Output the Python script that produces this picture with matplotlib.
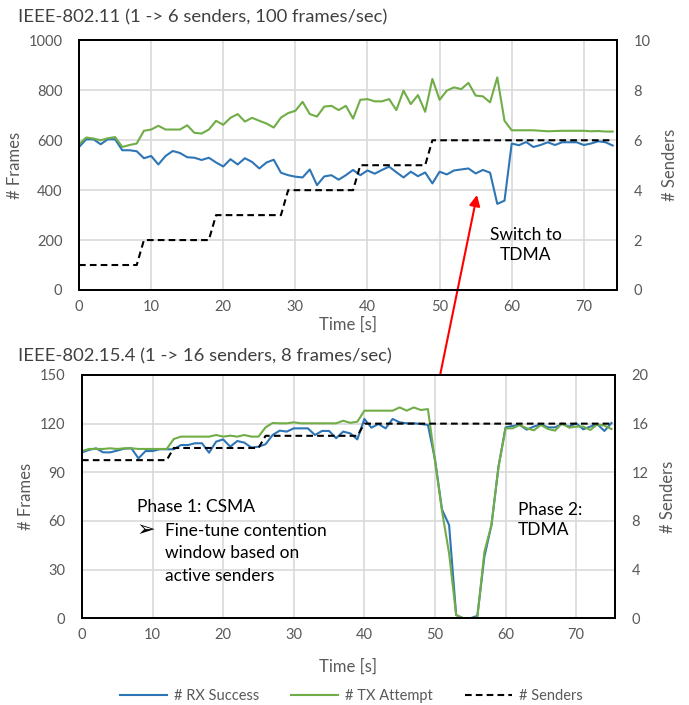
import matplotlib
matplotlib.use("Agg")
import matplotlib.pyplot as plt
import numpy as np

plt.rcParams['font.family'] = ['Lato', 'DejaVu Sans']

# ---- IEEE-802.11 (top) ----
t_wifi = np.arange(75)
wifi_rx = [573, 604, 604, 584, 604, 604, 560, 560, 556, 528, 537, 503, 537, 557, 549,
           532, 530, 521, 530, 511, 495, 524, 503, 528, 513, 487, 511, 522, 470, 460,
           454, 451, 483, 420, 455, 460, 442, 460, 481, 460, 479, 466, 481, 494, 472,
           451, 474, 456, 471, 427, 474, 463, 479, 483, 487, 467, 481, 470, 345, 358,
           587, 580, 593, 573, 581, 592, 581, 592, 592, 592, 581, 587, 596, 592, 579]
wifi_tx = [584, 611, 607, 600, 608, 613, 573, 581, 587, 638, 643, 658, 643, 643, 643,
           660, 630, 627, 643, 678, 662, 690, 705, 675, 690, 678, 667, 651, 691, 709,
           718, 754, 705, 695, 735, 738, 721, 738, 687, 762, 765, 756, 756, 765, 721,
           799, 745, 781, 714, 846, 762, 799, 812, 805, 830, 779, 776, 752, 852, 678,
           640, 640, 640, 640, 638, 636, 637, 638, 638, 638, 638, 636, 637, 635, 635]
wifi_senders = [1, 1, 1, 1, 1, 1, 1, 1, 1, 2, 2, 2, 2, 2, 2,
                2, 2, 2, 2, 3, 3, 3, 3, 3, 3, 3, 3, 3, 3, 4,
                4, 4, 4, 4, 4, 4, 4, 4, 4, 5, 5, 5, 5, 5, 5,
                5, 5, 5, 5, 6, 6, 6, 6, 6, 6, 6, 6, 6, 6, 6,
                6, 6, 6, 6, 6, 6, 6, 6, 6, 6, 6, 6, 6, 6, 6]

# ---- IEEE-802.15.4 (bottom) ----
t_zig = np.arange(76)
zig_rx = [102.3, 103.8, 104.8, 102.3, 102.3, 103.4, 104.6, 104.8, 98.6, 103.1, 103.1, 104.2,
          104.2, 104.2, 106.8, 106.8, 107.9, 107.9, 102.1, 108.9, 110.3, 105.8, 109.3, 108.3,
          105.2, 105.8, 107.3, 113.0, 115.7, 115.1, 117.1, 117.1, 117.1, 113.0, 115.5, 115.5,
          111.0, 115.1, 114.0, 110.3, 122.9, 117.5, 119.8, 117.1, 122.9, 120.8, 120.2, 120.2,
          119.8, 119.2, 98.0, 67.0, 57.5, 2.0, 0.0, 0.0, 1.5, 38.0, 57.5, 93.5,
          117.7, 118.6, 119.2, 116.3, 118.2, 119.6, 117.7, 117.7, 119.8, 118.2, 120.2, 116.5,
          118.2, 119.6, 115.5, 120.4]
zig_tx = [103.1, 104.4, 104.4, 104.4, 104.8, 104.4, 104.8, 104.8, 104.4, 104.4, 104.4, 104.4,
          104.4, 110.5, 112.0, 112.0, 112.0, 112.0, 112.0, 113.0, 112.0, 112.6, 112.0, 113.0,
          112.0, 112.0, 117.7, 120.4, 120.2, 120.2, 120.8, 120.2, 120.2, 120.2, 120.2, 120.2,
          120.2, 121.8, 120.5, 121.2, 128.0, 128.0, 128.0, 128.0, 128.0, 130.0, 128.0, 130.0,
          128.4, 129.0, 97.0, 66.0, 40.0, 2.0, 0.0, 0.0, 0.5, 41.0, 57.5, 93.5,
          117.1, 117.1, 119.2, 117.1, 115.9, 119.2, 116.7, 115.7, 120.2, 117.5, 118.2, 118.2,
          116.1, 119.6, 118.8, 116.7]
zig_senders = [13, 13, 13, 13, 13, 13, 13, 13, 13, 13, 13, 13, 13, 14, 14, 14, 14, 14, 14,
               14, 14, 14, 14, 14, 14, 14, 15, 15, 15, 15, 15, 15, 15, 15, 15, 15, 15, 15,
               15, 15, 16, 16, 16, 16, 16, 16, 16, 16, 16, 16, 16, 16, 16, 16, 16, 16, 16,
               16, 16, 16, 16, 16, 16, 16, 16, 16, 16, 16, 16, 16, 16, 16, 16, 16, 16, 16]

BLUE = '#2E75B6'
GREEN = '#70AD47'
GRAY = '#595959'
GRID = '#D9D9D9'
LW = 1.5
DASH = (3.2, 2.0)

fig = plt.figure(figsize=(6.89, 7.05), dpi=100)


def style(ax, ax2):
    for a in (ax, ax2):
        a.tick_params(length=0, labelsize=10.5, labelcolor=GRAY)
        for s in a.spines.values():
            s.set_color('black')
            s.set_linewidth(1.3)
    ax.tick_params(axis='y', pad=12)
    ax2.tick_params(axis='y', pad=12)
    ax.tick_params(axis='x', pad=7)
    ax.grid(True, color=GRID, lw=1.2)
    ax.set_axisbelow(True)
    ax.set_ylabel('# Frames', fontsize=12, color=GRAY, labelpad=4)
    ax2.set_ylabel('# Senders', fontsize=12, color=GRAY, labelpad=8)
    ax.set_xlabel('Time [s]', fontsize=12, color=GRAY, labelpad=2)


# top chart
ax1 = fig.add_axes([0.1147, 0.5887, 0.7808, 0.3539])
ax1b = ax1.twinx()
ax1.plot(t_wifi, wifi_rx, color=BLUE, lw=LW, label='# RX Success')
ax1.plot(t_wifi, wifi_tx, color=GREEN, lw=LW, label='# TX Attempt')
ax1b.plot(t_wifi, wifi_senders, color='black', lw=LW, dashes=DASH, label='# Senders')
ax1.set_xlim(0, 74.6)
ax1.set_ylim(0, 1000)
ax1.set_yticks(np.arange(0, 1001, 200))
ax1.set_xticks(np.arange(0, 71, 10))
ax1b.set_ylim(0, 10)
ax1b.set_yticks(np.arange(0, 11, 2))
style(ax1, ax1b)

# bottom chart
ax2 = fig.add_axes([0.119, 0.123, 0.7736, 0.3451])
ax2b = ax2.twinx()
ax2.plot(t_zig, zig_rx, color=BLUE, lw=LW)
ax2.plot(t_zig, zig_tx, color=GREEN, lw=LW)
ax2b.plot(t_zig, zig_senders, color='black', lw=LW, dashes=DASH)
ax2.set_xlim(0, 75.5)
ax2.set_ylim(0, 150)
ax2.set_yticks(np.arange(0, 151, 30))
ax2.set_xticks(np.arange(0, 71, 10))
ax2b.set_ylim(0, 20)
ax2b.set_yticks(np.arange(0, 21, 4))
style(ax2, ax2b)
ax2.xaxis.labelpad = 12

fig.text(18 / 689, 1 - 17 / 705, 'IEEE-802.11 (1 -> 6 senders, 100 frames/sec)',
         fontsize=13.3, color='#404040', va='center', ha='left')
fig.text(18 / 689, 1 - 356 / 705, 'IEEE-802.15.4 (1 -> 16 senders, 8 frames/sec)',
         fontsize=13.3, color='#404040', va='center', ha='left')

# annotations
fig.text(526 / 689, 1 - 245 / 705, 'Switch to\nTDMA', fontsize=12.5, ha='center',
         va='center', linespacing=1.25)
fig.text(137 / 689, 1 - 507 / 705, 'Phase 1: CSMA', fontsize=12.5, va='center')
fig.text(137 / 689, 1 - 530 / 705, '\u27a2', fontsize=16, va='center',
         family=['DejaVu Sans'])
fig.text(165 / 689, 1 - 531 / 705, 'Fine-tune contention', fontsize=12.5, va='center')
fig.text(165 / 689, 1 - 553 / 705, 'window based on', fontsize=12.5, va='center')
fig.text(165 / 689, 1 - 576 / 705, 'active senders', fontsize=12.5, va='center')
fig.text(518 / 689, 1 - 520 / 705, 'Phase 2:\nTDMA', fontsize=12.5, va='center',
         linespacing=1.3)

ax1.annotate('', xy=(477 / 689, 1 - 195 / 705), xytext=(435 / 689, 1 - 400 / 705),
             xycoords='figure fraction', textcoords='figure fraction',
             arrowprops=dict(arrowstyle='<|-|>', color='red', lw=1.5,
                             mutation_scale=16, shrinkA=0, shrinkB=0),
             annotation_clip=False)

h1, l1 = ax1.get_legend_handles_labels()
h2, l2 = ax1b.get_legend_handles_labels()
fig.legend(h1 + h2, l1 + l2, loc='center', bbox_to_anchor=(0.51, 1 - 696 / 705),
           ncol=3, frameon=False, fontsize=10.5, handlelength=3.2,
           columnspacing=2.2, handletextpad=0.5, labelcolor=GRAY)

fig.savefig('out.png', dpi=100)
